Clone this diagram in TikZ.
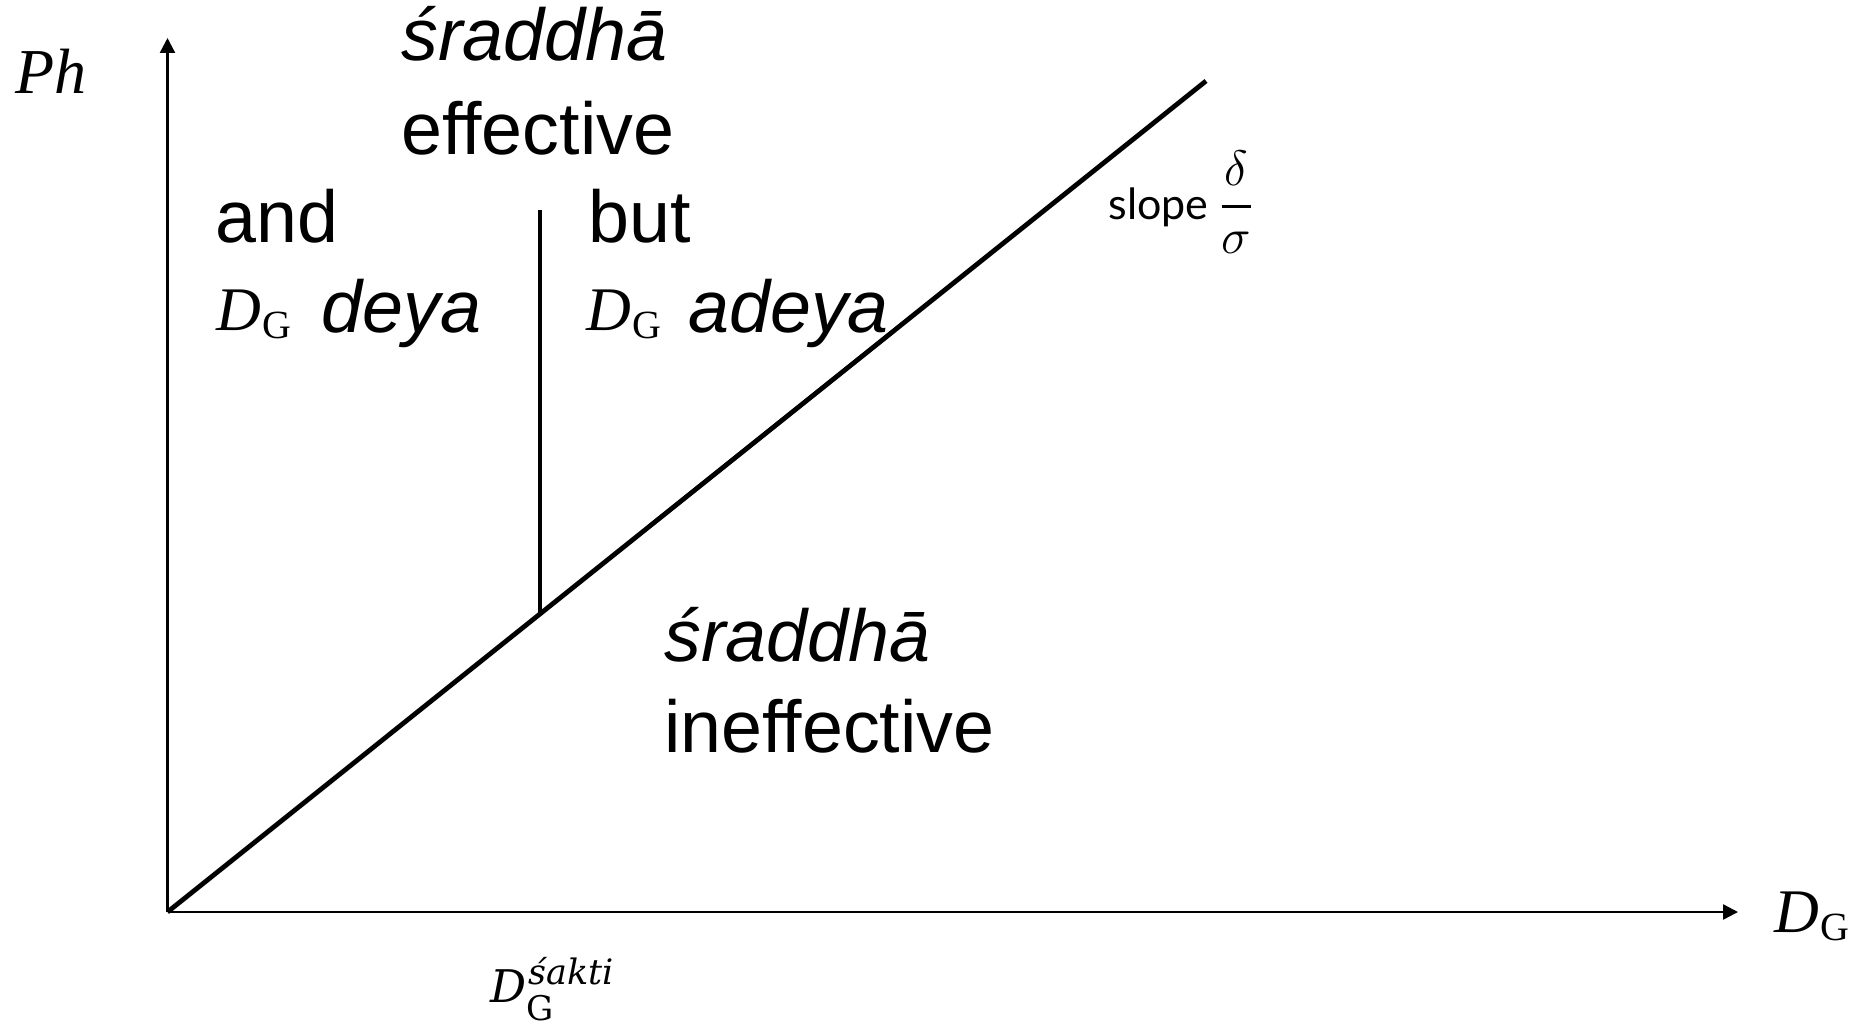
\documentclass[tikz,border=0pt]{standalone}
\usepackage{amsmath}
\usepackage{fontspec}
\setmainfont{Liberation Sans}
\newfontfamily\serifx{Liberation Serif}
\newfontfamily\serifd{DejaVu Serif}
\newfontfamily\slopefont{Lato}
\usetikzlibrary{arrows.meta}
\newcommand{\dgsym}[2]{{\serifx\fontsize{#1}{#1}\selectfont\itshape D}\kern0.06em\raisebox{-0.42em}{\serifx\fontsize{#2}{#2}\selectfont G}}
\tikzset{
  lbl/.style={inner sep=0pt, anchor=base west},
  big/.style={lbl, font=\fontsize{36.8}{44}\selectfont},
  bigit/.style={lbl, font=\fontsize{36.8}{44}\selectfont\itshape},
  axis/.style={line width=1.2pt, -{Triangle[length=7.5pt,width=7.5pt]}},
  thick line/.style={line width=2.4pt},
}
\begin{document}
\begin{tikzpicture}[x=0.5pt,y=-0.5pt]
\useasboundingbox (0,0) rectangle (1850,1022);
\coordinate (O) at (167.5,912);
\coordinate (Ytop) at (167.5,38);
\coordinate (Xend) at (1738,912);
\coordinate (Dtop) at (1206,81);
\coordinate (Vtop) at (540,210);
\coordinate (Vbot) at (540,613);
\draw[axis] (O) -- (Ytop);
\draw[axis] (O) -- (Xend);
\draw[thick line] (O) -- (Dtop);
\draw[thick line] (Vtop) -- (Vbot);
\node[lbl, font=\serifx\itshape\fontsize{32}{32}\selectfont] (ph) at (15,94) {Ph};
\node[bigit] (sr1) at (401,61) {śraddhā};
\node[big] (eff) at (401,155) {effective};
\node[big] (and) at (215,242) {and};
\node[lbl] (dg1) at (216,330) {\dgsym{31}{20}};
\node[bigit] (deya) at (321,332) {deya};
\node[big] (but) at (588,242) {but};
\node[lbl] (dg2) at (586,330) {\dgsym{31}{20}};
\node[bigit] (adeya) at (688,332) {adeya};
\node[lbl, font=\slopefont\fontsize{21.5}{21.5}\selectfont] (slope) at (1108,219) {slope {\fontsize{23}{23}\selectfont$\genfrac{}{}{1.6pt}{0}{\delta}{\sigma}$}};
\node[bigit] (sr2) at (664,661) {śraddhā};
\node[big] (ineff) at (664,752) {ineffective};
\node[lbl] (dsakti) at (490,1002) {{\serifd\fontsize{22.5}{22.5}\selectfont\itshape D}\makebox[0pt][l]{\raisebox{-9pt}{\serifd\fontsize{17}{17}\selectfont G}}\kern1pt\raisebox{9pt}{\serifd\fontsize{17.5}{17.5}\selectfont\itshape śakti}};
\node[lbl] (dgx) at (1774,932) {\dgsym{31}{20}};
\end{tikzpicture}
\end{document}
